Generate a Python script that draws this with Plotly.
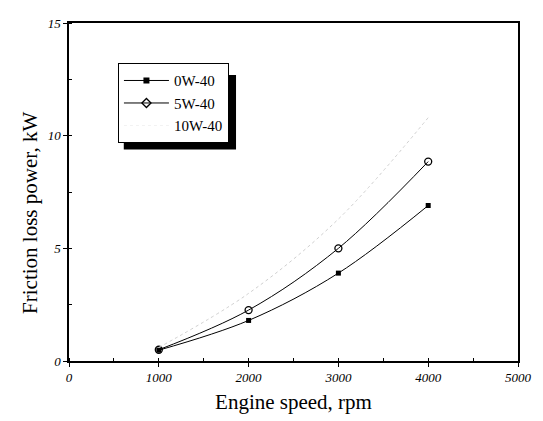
import plotly.graph_objects as go

speed = [1000, 2000, 3000, 4000]
oil_0w40 = [0.48, 1.8, 3.9, 6.9]
oil_5w40 = [0.5, 2.26, 5.0, 8.85]
oil_10w40 = [0.6, 3.0, 6.3, 10.8]
names = ["0W-40", "5W-40", "10W-40"]

x_ticks = [0, 1000, 2000, 3000, 4000, 5000]
y_ticks = [0, 5, 10, 15]
x_title = "Engine speed, rpm"
y_title = "Friction loss power, kW"

serif = "Liberation Serif"
fig = go.Figure()

# plotted curves
fig.add_trace(go.Scatter(x=speed, y=oil_0w40, mode="lines+markers", line=dict(color="black", width=1, shape="spline"),
                         marker=dict(symbol="square", size=5, color="black"), showlegend=False))
fig.add_trace(go.Scatter(x=speed, y=oil_5w40, mode="lines+markers", line=dict(color="black", width=1, shape="spline"),
                         marker=dict(symbol="circle-open", size=7, color="black", line=dict(width=1.3)), showlegend=False))
fig.add_trace(go.Scatter(x=speed, y=oil_10w40, mode="lines", line=dict(color="#cfcfcf", width=1, shape="spline", dash="dot"),
                         showlegend=False))

# legend entries
fig.add_trace(go.Scatter(x=[None], y=[None], mode="lines+markers", name=names[0],
                         line=dict(color="black", width=1), marker=dict(symbol="square", size=6, color="black")))
fig.add_trace(go.Scatter(x=[None], y=[None], mode="lines+markers", name=names[1],
                         line=dict(color="black", width=1), marker=dict(symbol="diamond-open", size=7, color="black", line=dict(width=1.3))))
fig.add_trace(go.Scatter(x=[None], y=[None], mode="lines", name=names[2],
                         line=dict(color="#f2f2f2", width=1, dash="dot")))

# legend drop shadow
fig.add_shape(type="rect", xref="paper", yref="paper", x0=0.122, x1=0.372, y0=0.626, y1=0.846,
              fillcolor="black", line=dict(width=0), layer="below")

# y-axis title (sits a little below the axis centre in the original)
fig.add_annotation(text=y_title, xref="paper", yref="paper", x=-0.087, y=0.438, textangle=-90,
                   showarrow=False, font=dict(family=serif, size=21), xanchor="center", yanchor="middle")

# page body has an 8px margin, so the figure is shifted by 8px
fig.update_layout(
    width=535, height=413,
    margin=dict(l=61, r=25, t=8, b=60),
    paper_bgcolor="white", plot_bgcolor="white",
    font=dict(family=serif, color="black"),
    legend=dict(x=0.109, y=0.881, xanchor="left", yanchor="top", bgcolor="white",
                bordercolor="black", borderwidth=1, font=dict(family=serif, size=15),
                itemwidth=45, tracegroupgap=0),
    xaxis=dict(range=[0, 5000], tickvals=x_ticks, ticktext=[str(v) for v in x_ticks],
               tickfont=dict(family=serif, size=13, style="italic"),
               ticks="outside", ticklen=4, tickcolor="black", showline=True, linecolor="black", linewidth=1.5,
               mirror=True, showgrid=False, zeroline=False,
               minor=dict(dtick=500, tick0=0, ticks="inside", ticklen=3, tickcolor="black"),
               title=dict(text=x_title, font=dict(family=serif, size=21), standoff=10)),
    yaxis=dict(range=[0, 15], tickvals=y_ticks, ticktext=[str(v) for v in y_ticks],
               tickfont=dict(family=serif, size=13, style="italic"),
               ticks="outside", ticklen=4, tickcolor="black", showline=True, linecolor="black", linewidth=1.5,
               mirror=True, showgrid=False, zeroline=False,
               minor=dict(dtick=2.5, tick0=0, ticks="inside", ticklen=3, tickcolor="black")),
)

fig.write_html("out.html")
